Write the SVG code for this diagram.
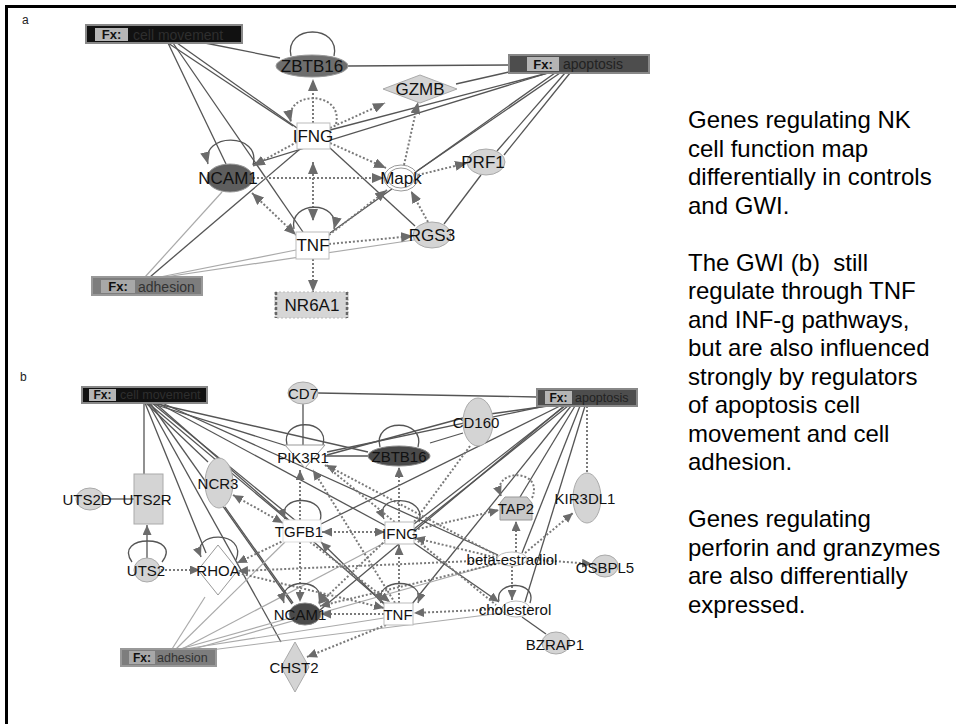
<svg xmlns="http://www.w3.org/2000/svg" width="956" height="724" viewBox="0 0 956 724">
<defs>
<style>
.s{stroke:#555;stroke-width:1.3;fill:none}
.l{stroke:#aaa;stroke-width:1.2;fill:none}
.d{stroke:#7a7a7a;stroke-width:2;stroke-dasharray:2 2;fill:none}
.t{font-family:"Liberation Sans",Arial,sans-serif;fill:#111;text-anchor:middle;dominant-baseline:central}
.ta{font-size:17px}
.tb{font-size:15px}
.gn{fill:#d4d4d4;stroke:#aaa;stroke-width:1}
.wn{fill:#fff;stroke:#bbb;stroke-width:1}
.fxl{fill:#b5b5b5}
.fx{font-family:"Liberation Sans",Arial,sans-serif;font-weight:bold;fill:#111;text-anchor:middle;dominant-baseline:central}
.fxt{font-family:"Liberation Sans",Arial,sans-serif;dominant-baseline:central}
.side{font-family:"Liberation Sans",Arial,sans-serif;font-size:24px;fill:#000}
</style>
<marker id="ah" markerUnits="userSpaceOnUse" markerWidth="12" markerHeight="10" refX="12" refY="5" orient="auto-start-reverse"><path d="M0,0 L12,5 L0,10 z" fill="#6b6b6b"/></marker>
<marker id="ab" markerUnits="userSpaceOnUse" markerWidth="10" markerHeight="9" refX="10" refY="4.5" orient="auto-start-reverse"><path d="M0,0 L10,4.5 L0,9 z" fill="#6b6b6b"/></marker>
</defs>
<rect width="956" height="724" fill="#fff"/>
<path d="M6.5,724 V6.5 H956" fill="none" stroke="#000" stroke-width="3"/>
<text x="22" y="24" font-family="Liberation Sans,Arial,sans-serif" font-size="12" fill="#222">a</text>
<text x="20" y="381" font-family="Liberation Sans,Arial,sans-serif" font-size="12" fill="#222">b</text>

<g id="connectors-a">
<line class="s" x1="205" y1="43" x2="280" y2="58"/>
<line class="s" x1="168" y1="43" x2="293" y2="126"/>
<line class="s" x1="177" y1="43" x2="297" y2="128"/>
<line class="s" x1="168" y1="43" x2="226" y2="164"/>
<line class="s" x1="173" y1="43" x2="303" y2="232"/>
<line class="s" x1="330" y1="148" x2="415" y2="226"/>
<line class="s" x1="348" y1="66" x2="509" y2="65"/>
<line class="s" x1="456" y1="84" x2="509" y2="72"/>
<line class="s" x1="548" y1="73" x2="330" y2="130"/>
<line class="s" x1="548" y1="73" x2="253" y2="164"/>
<line class="s" x1="560" y1="73" x2="417" y2="171"/>
<line class="s" x1="565" y1="73" x2="497" y2="151"/>
<line class="s" x1="570" y1="73" x2="504" y2="155"/>
<line class="s" x1="481" y1="175" x2="444" y2="224"/>
<line class="s" x1="555" y1="73" x2="330" y2="233"/>
<line class="l" x1="145" y1="277" x2="222" y2="192"/>
<line class="s" x1="150" y1="277" x2="300" y2="149"/>
<line class="l" x1="160" y1="277" x2="296" y2="250"/>
<line class="l" x1="165" y1="277" x2="414" y2="240"/>
<line class="d" x1="313" y1="123" x2="313" y2="79" marker-end="url(#ah)"/>
<line class="d" x1="330" y1="128" x2="385" y2="103" marker-end="url(#ah)"/>
<line class="d" x1="404" y1="165" x2="418" y2="102" marker-end="url(#ah)"/>
<line class="d" x1="330" y1="143" x2="386" y2="168" marker-end="url(#ah)"/>
<line class="d" x1="297" y1="142" x2="253" y2="166" marker-end="url(#ah)"/>
<line class="d" x1="253" y1="178" x2="384" y2="178" marker-end="url(#ah)"/>
<line class="d" x1="313" y1="162" x2="313" y2="221" marker-start="url(#ah)" marker-end="url(#ah)"/>
<line class="d" x1="252" y1="193" x2="296" y2="235" marker-start="url(#ah)" marker-end="url(#ah)"/>
<line class="d" x1="329" y1="235" x2="387" y2="190" marker-end="url(#ah)"/>
<line class="d" x1="329" y1="244" x2="413" y2="236" marker-end="url(#ah)"/>
<line class="d" x1="428" y1="222" x2="411" y2="191" marker-end="url(#ah)"/>
<line class="d" x1="418" y1="175" x2="467" y2="163" marker-end="url(#ah)"/>
<line class="d" x1="313" y1="259" x2="313" y2="292" marker-end="url(#ah)"/>
<path class="s" d="M291,56 C284,24 341,24 334,56"/>
<path class="d" d="M336,124 C344,90 283,90 291,122" marker-end="url(#ah)"/>
<path class="s" d="M253,165 C262,132 200,132 208,164" marker-end="url(#ah)"/>
<path class="s" d="M294,229 C288,200 341,200 334,229" marker-end="url(#ah)"/>
</g>

<g id="fx-cell-movement-a"><rect x="86" y="25" width="156" height="18" fill="#111" stroke="#888" stroke-width="2"/><rect class="fxl" x="95" y="28" width="33" height="13"/><text class="fx" x="111.5" y="34.5" font-size="13">Fx:</text><text class="fxt" x="133" y="34.5" font-size="14" fill="#2e2e2e">cell movement</text></g>
<g id="zbtb16-a"><ellipse cx="312" cy="66" rx="36" ry="11" fill="#6e6e6e" stroke="#999"/><text class="t ta" x="312" y="66">ZBTB16</text></g>
<g id="gzmb-a"><polygon class="gn" points="383,89 420,75 457,89 420,103"/><text class="t ta" x="420" y="89">GZMB</text></g>
<g id="fx-apoptosis-a"><rect x="509" y="55" width="140" height="18" fill="#4d4d4d" stroke="#888" stroke-width="2"/><rect class="fxl" x="527" y="57" width="32" height="14"/><text class="fx" x="543" y="64" font-size="13">Fx:</text><text class="fxt" x="563" y="64" font-size="14" fill="#222">apoptosis</text></g>
<g id="ifng-a"><rect class="wn" x="297" y="123" width="33" height="26"/><text class="t ta" x="313" y="136">IFNG</text></g>
<g id="ncam1-a"><ellipse cx="230" cy="178" rx="23" ry="14" fill="#5e5e5e" stroke="#999"/><text class="t ta" x="228" y="178">NCAM1</text></g>
<g id="mapk-a"><ellipse cx="401" cy="178" rx="17" ry="13" fill="#fff" stroke="#999"/><ellipse cx="401" cy="178" rx="13.5" ry="10" fill="none" stroke="#999"/><text class="t ta" x="401" y="178">Mapk</text></g>
<g id="prf1-a"><ellipse class="gn" cx="486" cy="162" rx="19" ry="13"/><text class="t ta" x="483" y="162">PRF1</text></g>
<g id="tnf-a"><rect class="wn" x="296" y="232" width="33" height="27"/><text class="t ta" x="313" y="245">TNF</text></g>
<g id="rgs3-a"><ellipse class="gn" cx="432" cy="235" rx="19" ry="13"/><text class="t ta" x="432" y="235">RGS3</text></g>
<g id="fx-adhesion-a"><rect x="92" y="277" width="110" height="18" fill="#7d7d7d" stroke="#999" stroke-width="2"/><rect x="101" y="280" width="34" height="13" fill="#a8a8a8"/><text class="fx" x="118" y="286.5" font-size="13">Fx:</text><text class="fxt" x="138" y="286.5" font-size="14" fill="#333">adhesion</text></g>
<g id="nr6a1-a"><rect x="275" y="292" width="73" height="26" fill="#d6d6d6" stroke="#bbb" stroke-dasharray="2 2"/><line x1="276" y1="292" x2="276" y2="318" stroke="#666" stroke-width="2.5" stroke-dasharray="3 2"/><line x1="347" y1="292" x2="347" y2="318" stroke="#666" stroke-width="2.5" stroke-dasharray="3 2"/><text class="t ta" x="312" y="305">NR6A1</text></g>

<g id="connectors-b">
<line class="s" x1="144" y1="403" x2="144" y2="474"/>
<line class="s" x1="104" y1="499" x2="134" y2="499"/>
<line class="s" x1="147" y1="558" x2="147" y2="525" marker-end="url(#ab)"/>
<line class="s" x1="150" y1="403" x2="287" y2="446"/>
<line class="s" x1="153" y1="403" x2="368" y2="452"/>
<line class="s" x1="148" y1="403" x2="290" y2="522"/>
<line class="s" x1="152" y1="403" x2="296" y2="521"/>
<line class="s" x1="158" y1="403" x2="386" y2="526"/>
<line class="s" x1="162" y1="403" x2="498" y2="555"/>
<line class="s" x1="146" y1="403" x2="208" y2="462"/>
<line class="s" x1="145" y1="403" x2="206" y2="553"/>
<line class="s" x1="148" y1="403" x2="281" y2="642"/>
<line class="s" x1="150" y1="403" x2="292" y2="604"/>
<line class="s" x1="155" y1="403" x2="386" y2="605"/>
<line class="s" x1="225" y1="507" x2="293" y2="603"/>
<line class="s" x1="414" y1="543" x2="499" y2="602" marker-end="url(#ab)"/>
<line class="s" x1="385" y1="605" x2="321" y2="542" marker-end="url(#ab)"/>
<line class="s" x1="303" y1="404" x2="303" y2="446"/>
<line class="s" x1="325" y1="456" x2="368" y2="456"/>
<line class="s" x1="318" y1="393" x2="537" y2="397"/>
<line class="s" x1="545" y1="406" x2="327" y2="452"/>
<line class="s" x1="548" y1="406" x2="490" y2="414"/>
<line class="s" x1="327" y1="455" x2="463" y2="418"/>
<line class="s" x1="430" y1="443" x2="463" y2="433"/>
<line class="s" x1="560" y1="406" x2="321" y2="524"/>
<line class="s" x1="565" y1="406" x2="414" y2="524"/>
<line class="s" x1="568" y1="406" x2="414" y2="529"/>
<line class="s" x1="575" y1="406" x2="520" y2="497"/>
<line class="s" x1="580" y1="406" x2="522" y2="553"/>
<line class="s" x1="585" y1="406" x2="525" y2="602"/>
<line class="s" x1="571" y1="406" x2="412" y2="604"/>
<line class="s" x1="564" y1="406" x2="320" y2="610"/>
<line class="s" x1="522" y1="617" x2="546" y2="634"/>
<line class="l" x1="172" y1="649" x2="205" y2="597"/>
<line class="l" x1="176" y1="649" x2="285" y2="542"/>
<line class="l" x1="180" y1="649" x2="290" y2="618"/>
<line class="l" x1="185" y1="649" x2="384" y2="618"/>
<line class="l" x1="182" y1="649" x2="386" y2="542"/>
<line class="l" x1="190" y1="650" x2="498" y2="563"/>
<line class="l" x1="195" y1="652" x2="502" y2="613"/>
<line class="d" x1="587" y1="406" x2="587" y2="473"/>
<line class="d" x1="300" y1="520" x2="300" y2="470" marker-end="url(#ab)"/>
<line class="d" x1="395" y1="603" x2="313" y2="470" marker-end="url(#ab)"/>
<line class="d" x1="498" y1="556" x2="326" y2="465" marker-end="url(#ab)"/>
<line class="d" x1="399" y1="522" x2="399" y2="467" marker-end="url(#ab)"/>
<line class="d" x1="233" y1="495" x2="283" y2="523" marker-start="url(#ab)" marker-end="url(#ab)"/>
<line class="d" x1="322" y1="532" x2="385" y2="532" marker-start="url(#ab)" marker-end="url(#ab)"/>
<line class="d" x1="285" y1="540" x2="237" y2="563" marker-end="url(#ab)"/>
<line class="d" x1="161" y1="570" x2="200" y2="570" marker-end="url(#ab)"/>
<line class="d" x1="300" y1="542" x2="300" y2="602" marker-end="url(#ab)"/>
<line class="d" x1="310" y1="542" x2="390" y2="602" marker-end="url(#ab)"/>
<line class="d" x1="399" y1="603" x2="399" y2="545" marker-end="url(#ab)"/>
<line class="d" x1="414" y1="530" x2="499" y2="510" marker-end="url(#ab)"/>
<line class="d" x1="516" y1="552" x2="516" y2="521" marker-end="url(#ab)"/>
<line class="d" x1="498" y1="558" x2="415" y2="538" marker-end="url(#ab)"/>
<line class="d" x1="525" y1="553" x2="573" y2="513" marker-end="url(#ab)"/>
<line class="d" x1="527" y1="559" x2="592" y2="564" marker-end="url(#ab)"/>
<line class="d" x1="512" y1="566" x2="512" y2="600" marker-end="url(#ab)"/>
<line class="d" x1="498" y1="560" x2="238" y2="571" marker-end="url(#ab)"/>
<line class="d" x1="500" y1="563" x2="320" y2="606" marker-end="url(#ab)"/>
<line class="d" x1="502" y1="609" x2="414" y2="613" marker-end="url(#ab)"/>
<line class="d" x1="384" y1="614" x2="321" y2="614" marker-end="url(#ab)"/>
<line class="d" x1="386" y1="625" x2="307" y2="657" marker-end="url(#ab)"/>
<line class="d" x1="386" y1="540" x2="319" y2="604" marker-end="url(#ab)"/>
<line class="d" x1="238" y1="573" x2="384" y2="608" marker-end="url(#ab)"/>
<line class="d" x1="470" y1="446" x2="414" y2="522"/>
<line class="d" x1="325" y1="465" x2="496" y2="605"/>
<path class="s" d="M287,445 C280,418 330,418 323,445"/>
<path class="s" d="M380,447 C372,418 426,418 418,447"/>
<path class="s" d="M132,562 C112,534 184,534 162,562"/>
<path class="s" d="M236,560 C248,530 190,530 201,557" marker-end="url(#ab)"/>
<path class="s" d="M320,521 C328,494 276,494 285,519" marker-end="url(#ab)"/>
<path class="s" d="M419,522 C428,494 372,494 384,519" marker-end="url(#ab)"/>
<path class="d" d="M532,498 C545,468 490,468 501,496" marker-end="url(#ab)"/>
<path class="s" d="M530,603 C538,580 494,580 499,601"/>
<path class="s" d="M284,603 C276,577 328,577 319,603" marker-start="url(#ab)" marker-end="url(#ab)"/>
<path class="s" d="M381,603 C373,577 427,577 418,603" marker-start="url(#ab)" marker-end="url(#ab)"/>
</g>

<g id="fx-cell-movement-b"><rect x="82" y="387" width="125" height="16" fill="#111" stroke="#888" stroke-width="2"/><rect class="fxl" x="89" y="389" width="27" height="12"/><text class="fx" x="102.5" y="395" font-size="12">Fx:</text><text class="fxt" x="120" y="395" font-size="12.5" fill="#2e2e2e">cell movement</text></g>
<g id="cd7-b"><ellipse class="gn" cx="303" cy="393" rx="15" ry="11"/><text class="t tb" x="303" y="393">CD7</text></g>
<g id="fx-apoptosis-b"><rect x="537" y="389" width="100" height="17" fill="#4d4d4d" stroke="#888" stroke-width="2"/><rect class="fxl" x="545" y="391" width="27" height="13"/><text class="fx" x="558.5" y="397.5" font-size="12">Fx:</text><text class="fxt" x="575" y="397.5" font-size="12.5" fill="#222">apoptosis</text></g>
<g id="cd160-b"><ellipse class="gn" cx="478" cy="422" rx="15" ry="24"/><text class="t tb" x="476" y="422">CD160</text></g>
<g id="pik3r1-b"><polygon points="285,445 325,445 305,468" fill="#fff" stroke="#999"/><text class="t tb" x="303" y="457">PIK3R1</text></g>
<g id="zbtb16-b"><ellipse cx="399" cy="456" rx="31" ry="10" fill="#4a4a4a" stroke="#888"/><text class="t tb" x="399" y="456" font-size="16">ZBTB16</text></g>
<g id="ncr3-b"><ellipse class="gn" cx="219" cy="483" rx="14" ry="25"/><text class="t tb" x="218" y="483">NCR3</text></g>
<g id="uts2r-b"><rect class="gn" x="134" y="474" width="29" height="50"/><text class="t tb" x="147" y="499">UTS2R</text></g>
<g id="uts2d-b"><ellipse class="gn" cx="90" cy="499" rx="14" ry="11"/><text class="t tb" x="87" y="499">UTS2D</text></g>
<g id="uts2-b"><ellipse class="gn" cx="147" cy="570" rx="13" ry="12"/><text class="t tb" x="146" y="570">UTS2</text></g>
<g id="rhoa-b"><polygon points="218,545 238,570 218,595 198,570" fill="#fff" stroke="#999"/><text class="t tb" x="218" y="570">RHOA</text></g>
<g id="tgfb1-b"><rect x="283" y="520" width="38" height="22" fill="#fff" stroke="#ddd"/><text class="t tb" x="299" y="531">TGFB1</text></g>
<g id="ifng-b"><rect class="wn" x="385" y="522" width="29" height="22"/><text class="t tb" x="400" y="533">IFNG</text></g>
<g id="tap2-b"><polygon points="505,497 527,497 532,503 532,520 500,520 500,503" fill="#c8c8c8" stroke="#999"/><text class="t tb" x="516" y="508">TAP2</text></g>
<g id="kir3dl1-b"><ellipse class="gn" cx="587" cy="498" rx="14" ry="25"/><text class="t tb" x="585" y="498">KIR3DL1</text></g>
<g id="beta-estradiol-b"><ellipse class="wn" cx="512" cy="559" rx="15" ry="7"/><text class="t tb" x="512" y="559">beta-estradiol</text></g>
<g id="osbpl5-b"><ellipse class="gn" cx="605" cy="566" rx="13" ry="11"/><text class="t tb" x="605" y="567">OSBPL5</text></g>
<g id="cholesterol-b"><ellipse class="wn" cx="516" cy="609" rx="14" ry="8"/><text class="t tb" x="515" y="609">cholesterol</text></g>
<g id="bzrap1-b"><ellipse class="gn" cx="556" cy="643" rx="14" ry="11"/><text class="t tb" x="555" y="644">BZRAP1</text></g>
<g id="ncam1-b"><ellipse cx="305" cy="614" rx="16" ry="11" fill="#4a4a4a" stroke="#888"/><text class="t tb" x="300" y="614">NCAM1</text></g>
<g id="tnf-b"><rect class="wn" x="384" y="603" width="29" height="22"/><text class="t tb" x="398" y="614">TNF</text></g>
<g id="chst2-b"><polygon class="gn" points="295,642 309,667 295,692 281,667"/><text class="t tb" x="294" y="667">CHST2</text></g>
<g id="fx-adhesion-b"><rect x="121" y="649" width="95" height="17" fill="#7d7d7d" stroke="#999" stroke-width="2"/><rect x="129" y="651" width="26" height="13" fill="#a8a8a8"/><text class="fx" x="142" y="657.5" font-size="12">Fx:</text><text class="fxt" x="157" y="657.5" font-size="12.5" fill="#333">adhesion</text></g>

<g id="caption">
<text class="side" x="688" y="128" xml:space="preserve"><tspan x="688">Genes regulating NK</tspan><tspan x="688" dy="28.5">cell function map</tspan><tspan x="688" dy="28.5">differentially in controls</tspan><tspan x="688" dy="28.5">and GWI.</tspan><tspan x="688" dy="57">The GWI (b)  still</tspan><tspan x="688" dy="28.5">regulate through TNF</tspan><tspan x="688" dy="28.5">and INF-g pathways,</tspan><tspan x="688" dy="28.5">but are also influenced</tspan><tspan x="688" dy="28.5">strongly by regulators</tspan><tspan x="688" dy="28.5">of apoptosis cell</tspan><tspan x="688" dy="28.5">movement and cell</tspan><tspan x="688" dy="28.5">adhesion.</tspan><tspan x="688" dy="57">Genes regulating</tspan><tspan x="688" dy="28.5">perforin and granzymes</tspan><tspan x="688" dy="28.5">are also differentially</tspan><tspan x="688" dy="28.5">expressed.</tspan></text>
</g>
</svg>
